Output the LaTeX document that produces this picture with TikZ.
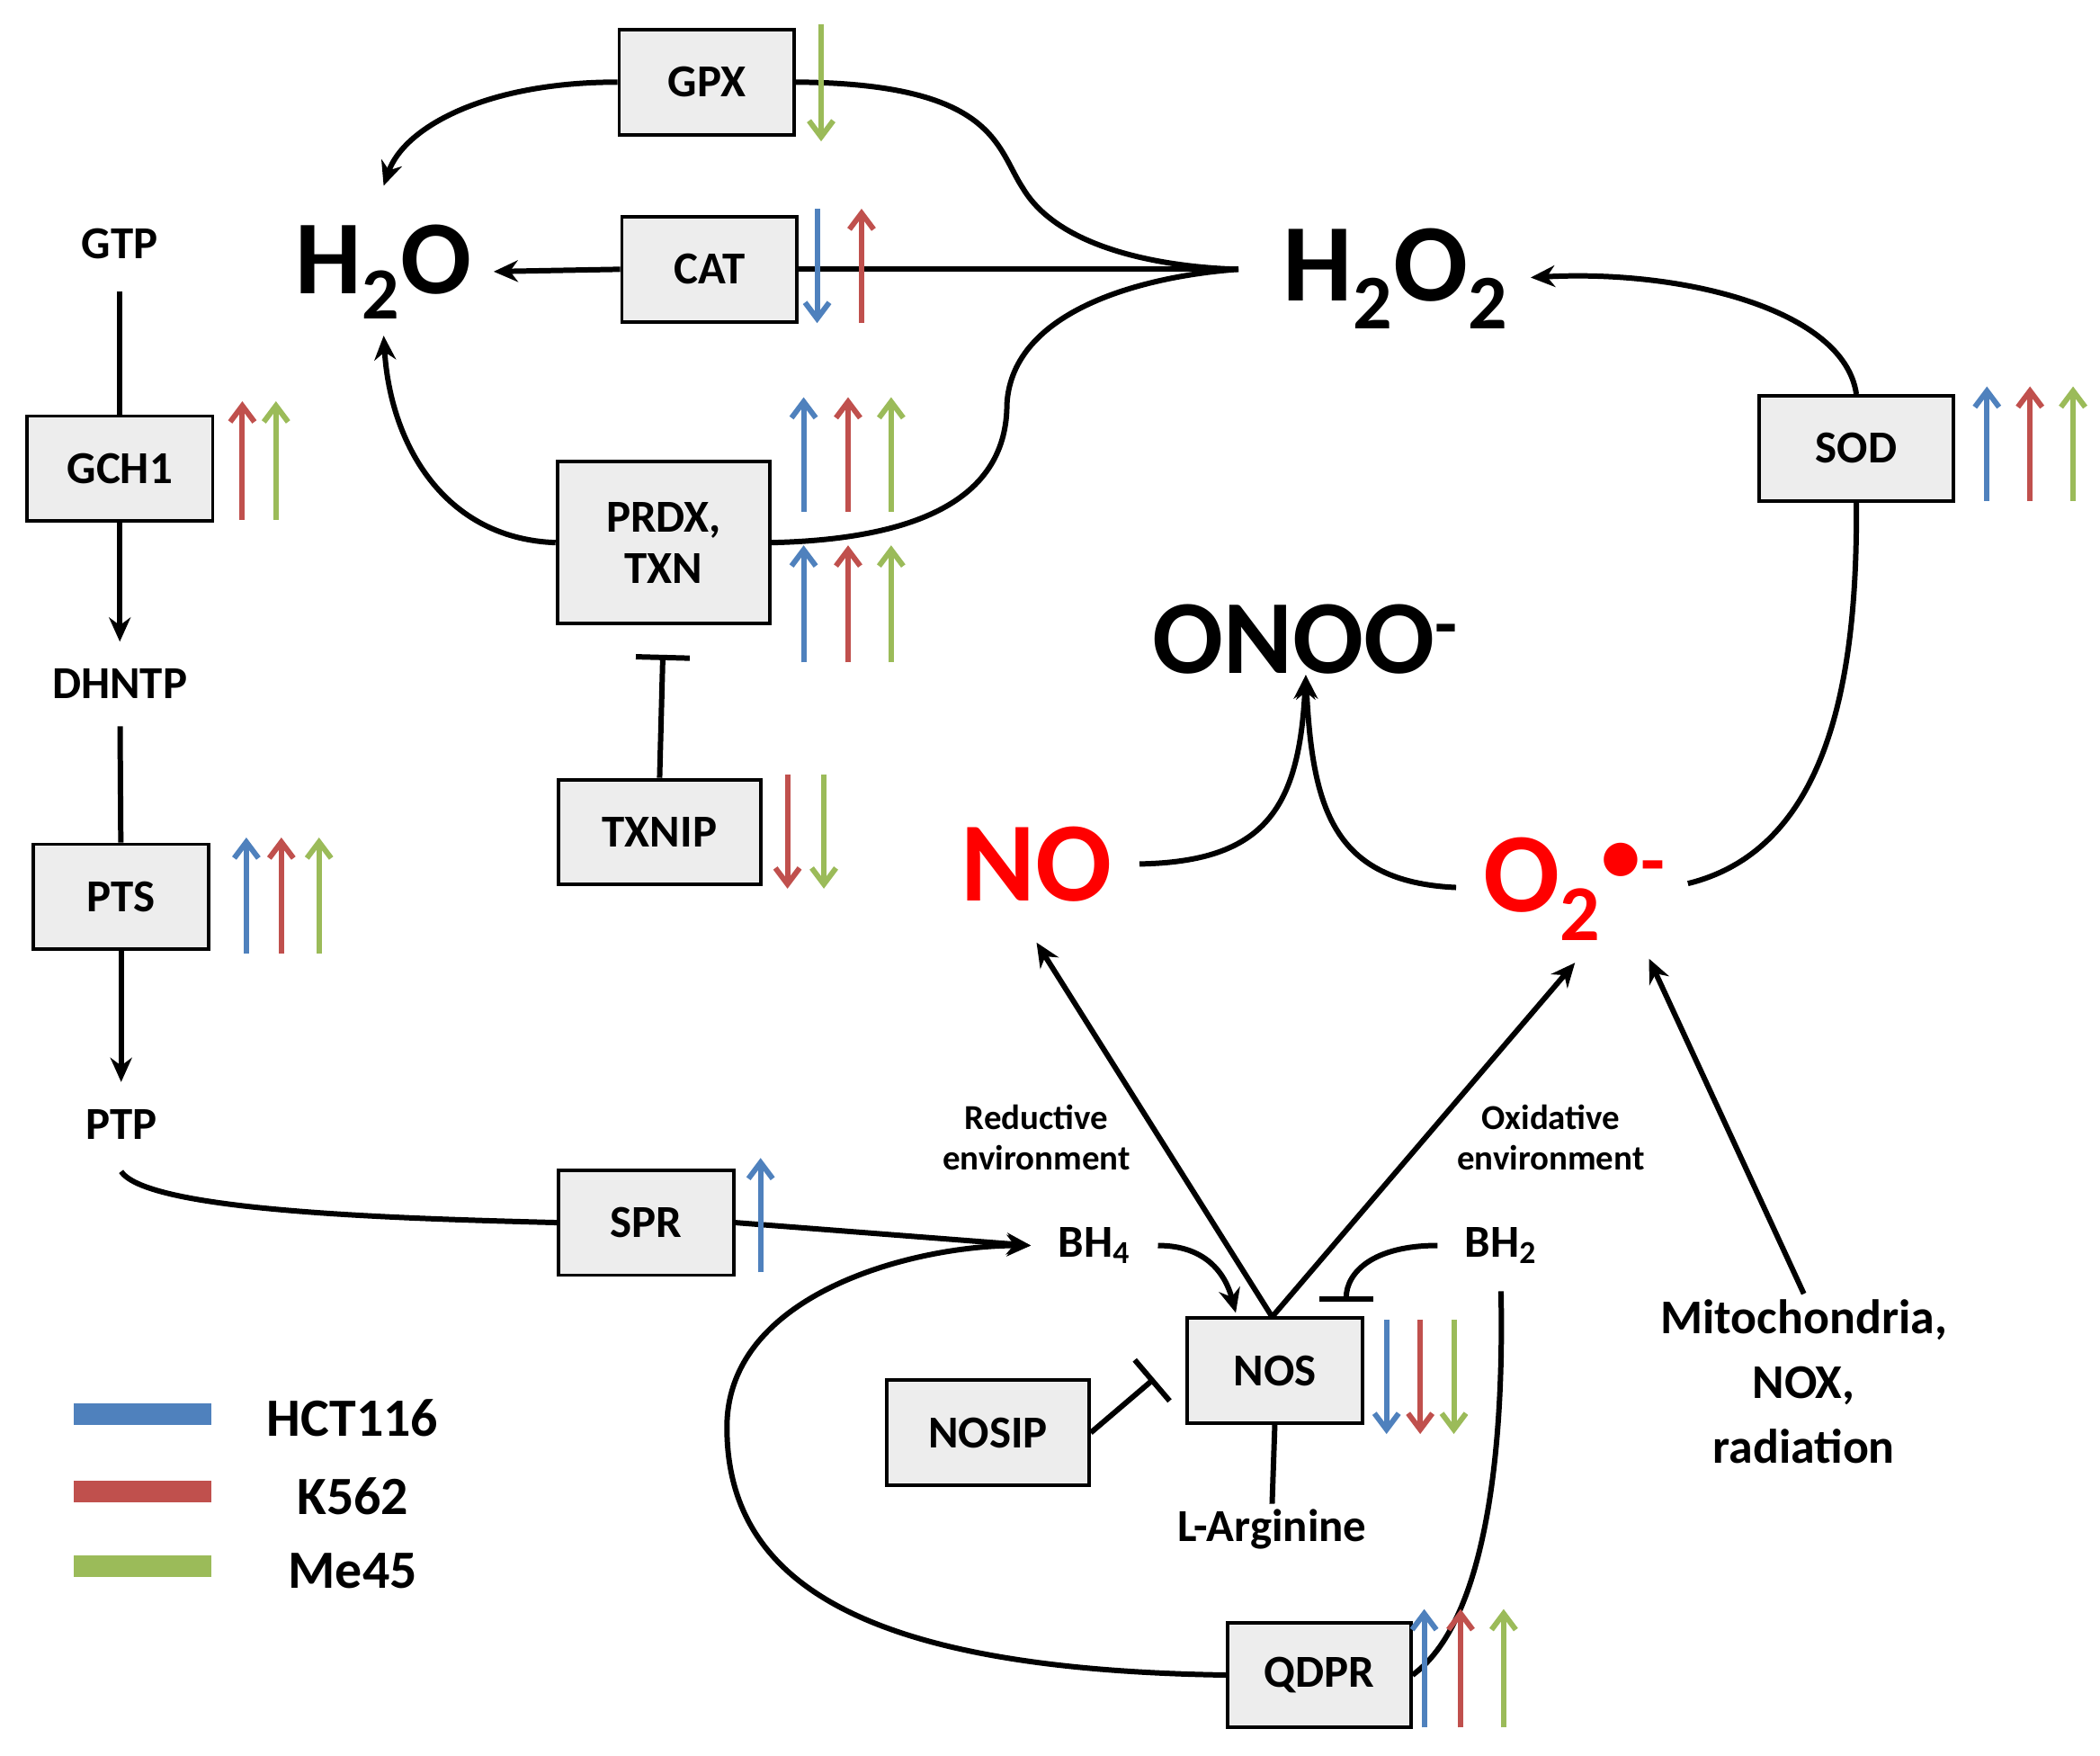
\documentclass[tikz,border=0pt]{standalone}
\usepackage{fontspec}
\setmainfont{Carlito}
\usetikzlibrary{arrows.meta}
\definecolor{cb}{HTML}{4F81BD}
\definecolor{cr}{HTML}{C0504D}
\definecolor{cg}{HTML}{9BBB59}
\definecolor{nored}{HTML}{FF0000}
\begin{document}
\begin{tikzpicture}[x=0.5pt,y=-0.5pt,
 box/.style={draw,line width=1.3pt,fill=black!7,minimum width=65pt,minimum height=39pt,font=\bfseries\fontsize{17}{19}\selectfont,inner sep=0pt,align=center},
 lbl/.style={font=\bfseries\fontsize{17}{19}\selectfont,inner sep=2pt},
 big/.style={font=\bfseries\fontsize{39}{41}\selectfont,inner sep=0pt},
 env/.style={font=\bfseries\fontsize{13}{15}\selectfont,align=center,inner sep=0pt},
 ln/.style={line width=2pt},
 ar/.style={line width=2pt,-{Stealth[length=9pt,width=8pt]}},
 inh/.style={line width=2pt,-{Bar[width=20pt]}},
 ca/.style={line width=2pt,-{Straight Barb[length=6pt,width=9pt]}}]
\useasboundingbox (0,0) rectangle (1560,1304);
% boxes
\node[box] (gpx) at (525,61) {GPX};
\node[box] (cat) at (527,200) {CAT};
\node[box,minimum width=79pt,minimum height=60pt] (prdx) at (493,403) {PRDX,\\TXN};
\node[box,minimum width=75pt] (txnip) at (490,618) {TXNIP};
\node[box,minimum width=69pt] (gch1) at (89,348) {GCH1};
\node[box] (pts) at (90,666) {PTS};
\node[box] (spr) at (480,908) {SPR};
\node[box] (nos) at (947,1018) {NOS};
\node[box,minimum width=75pt] (nosip) at (734,1064) {NOSIP};
\node[box,minimum width=68pt] (qdpr) at (980,1244) {QDPR};
\node[box,minimum width=72pt] (sod) at (1379,333) {SOD};
% labels
\node[lbl,inner sep=12pt] (gtp) at (89,181) {GTP};
\node[lbl,inner sep=10pt] (dhntp) at (89,508) {DHNTP};
\node[lbl,inner sep=10pt] (ptp) at (90,835) {PTP};
\node[big] (h2o) at (285,202) {H\textsubscript{2}O};
\node[big,font=\bfseries\fontsize{41}{43}\selectfont] (h2o2) at (1037,207) {H\textsubscript{2}O\textsubscript{2}};
\node[big] (onoo) at (970,475) {ONOO\textsuperscript{-}};
\node[big,text=nored,font=\bfseries\fontsize{42}{44}\selectfont] (no) at (770,642) {NO};
\node[big,text=nored,font=\bfseries\fontsize{42}{44}\selectfont] (o2) at (1170,660) {O\textsubscript{2}\textsuperscript{\raisebox{2pt}{\textbullet}-}};
\node[lbl,inner sep=10pt] (bh4) at (813,925) {BH\textsubscript{4}};
\node[lbl,inner sep=10pt] (bh2) at (1115,925) {BH\textsubscript{2}};
\node[env] (red) at (770,845) {Reductive\\environment};
\node[env] (oxi) at (1152,845) {Oxidative\\environment};
\node[lbl] (larg) at (945,1136) {L-Arginine};
\node[lbl,align=center,font=\bfseries\fontsize{18}{24}\selectfont] (mito) at (1340,1026) {Mitochondria,\\NOX,\\radiation};
\coordinate (hub) at (920,200);
% legend
\draw[cb,line width=8pt] (55,1050) -- (157,1050);
\draw[cr,line width=8pt] (55,1108) -- (157,1108);
\draw[cg,line width=8pt] (55,1163) -- (157,1163);
\node[lbl,font=\bfseries\fontsize{20}{22}\selectfont] (l1) at (262,1053) {HCT116};
\node[lbl,font=\bfseries\fontsize{20}{22}\selectfont] (l2) at (262,1111) {K562};
\node[lbl,font=\bfseries\fontsize{20}{22}\selectfont] (l3) at (262,1167) {Me45};
% pathway left
\draw[ln] (gtp) -- (gch1);
\draw[ar] (gch1) -- (dhntp);
\draw[ln] (dhntp) -- (pts);
\draw[ar] (pts) -- (ptp);
\draw[ln] (90,870) .. controls (110,900) and (300,905) .. (spr.west);
\draw[ar] (spr.east) -- (bh4.west);
% peroxide
\draw[ar] (gpx.west) .. controls (360,61) and (300,95) .. (285,138);
\draw[ln] (gpx.east) .. controls (740,62) and (740,110) .. (760,140) .. controls (790,190) and (880,199) .. (hub);
\draw[ln] (hub) -- (cat.east);
\draw[ar,shorten >=8pt] (cat.west) -- (h2o.east);
\draw[ar] (prdx.west) .. controls (330,400) and (290,330) .. ([yshift=-6pt]h2o.south);
\draw[ln] (prdx.east) .. controls (700,400) and (748,360) .. (748,300) .. controls (752,230) and (850,205) .. (hub);
\draw[inh,shorten >=11pt] (txnip.north) -- (prdx.south);
% SOD
\draw[ar,shorten >=8pt] (sod.north) .. controls (1370,230) and (1250,200) .. (h2o2.east);
\draw[ln,shorten <=8pt] (o2.east) .. controls (1360,630) and (1380,500) .. (sod.south);
% ONOO
\draw[ar,shorten <=10pt] (no.east) .. controls (940,640) and (965,600) .. (onoo.south);
\draw[ar,shorten <=10pt] (o2.west) .. controls (990,655) and (975,600) .. (onoo.south);
% NOS
\coordinate (nt) at (945,978);
\draw[ar] (nt) -- (770,700);
\draw[ar] (nt) -- (1170,715);
\draw[ar] (mito.north) -- (1225,712);
\draw[ar] (bh4.east) .. controls (895,925) and (910,945) .. (918,975);
\draw[inh] (bh2.west) .. controls (1020,925) and (1000,945) .. (1000,967);
\draw[inh,shorten >=3pt] (nosip.east) -- (862,1020);
\draw[ln] (nos.south) -- (larg.north);
\draw[ar] (qdpr.west) .. controls (650,1240) and (540,1180) .. (540,1060) .. controls (540,960) and (680,925) .. (bh4.west);
\draw[ln] (qdpr.east) .. controls (1110,1200) and (1117,1050) .. (bh2.south);
% colored arrows
\draw[ca,cg] (610,18) -- (610,105);
\draw[ca,cb] (607,155) -- (607,240);
\draw[ca,cr] (640,240) -- (640,155);
\foreach \y/\z in {380/295,492/405}{
 \draw[ca,cb] (597,\y) -- (597,\z);
 \draw[ca,cr] (630,\y) -- (630,\z);
 \draw[ca,cg] (662,\y) -- (662,\z);}
\draw[ca,cr] (585,575) -- (585,660);
\draw[ca,cg] (612,575) -- (612,660);
\draw[ca,cr] (180,386) -- (180,298);
\draw[ca,cg] (205,386) -- (205,298);
\draw[ca,cb] (183,708) -- (183,622);
\draw[ca,cr] (209,708) -- (209,622);
\draw[ca,cg] (237,708) -- (237,622);
\draw[ca,cb] (565,945) -- (565,860);
\draw[ca,cb] (1476,372) -- (1476,287);
\draw[ca,cr] (1508,372) -- (1508,287);
\draw[ca,cg] (1540,372) -- (1540,287);
\draw[ca,cb] (1030,980) -- (1030,1065);
\draw[ca,cr] (1055,980) -- (1055,1065);
\draw[ca,cg] (1080,980) -- (1080,1065);
\draw[ca,cb] (1058,1283) -- (1058,1195);
\draw[ca,cr] (1085,1283) -- (1085,1195);
\draw[ca,cg] (1117,1283) -- (1117,1195);
\end{tikzpicture}
\end{document}
